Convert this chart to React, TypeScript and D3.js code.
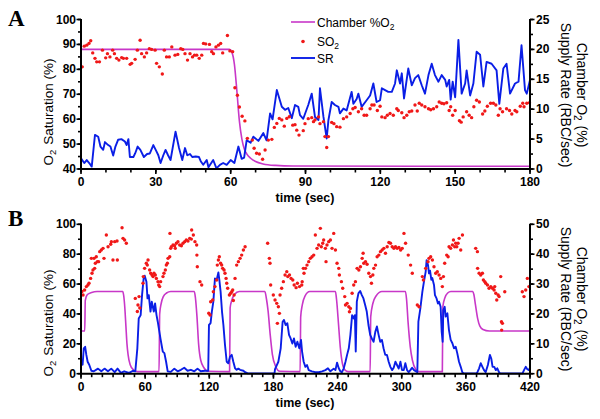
import React from 'react';
import * as d3 from 'd3';

type P = [number, number];

// ---------- tick labels ----------
const topXTicks = [0, 30, 60, 90, 120, 150, 180];
const topLeftTicks = [40, 50, 60, 70, 80, 90, 100];
const topRightTicks = [0, 5, 10, 15, 20, 25];
const botXTicks = [0, 60, 120, 180, 240, 300, 360, 420];
const botLeftTicks = [0, 20, 40, 60, 80, 100];
const botRightTicks = [0, 10, 20, 30, 40, 50];

// ---------- panel A data ----------
// Chamber O2 (%), right axis
const topChamber: P[] = [[0,20],[59.5,20],[60.5,19.5],[61.5,17.5],[62.5,13],[63.5,8],[64.5,5],[65.5,3.3],[66.5,2.5],[68,1.8],[70,1.25],[73,0.85],[78,0.6],[85,0.5],[180,0.45]];
// Supply rate (RBC/sec), right axis
const topSR: P[] = [[0,1.8],[1.3,1.0],[2.3,1.5],[3.3,1.0],[4.3,0.4],[5.6,5.7],[6.9,5.4],[7.8,3.75],[8.9,3.2],[9.6,4.5],[10.9,4.0],[11.8,3.75],[12.9,2.25],[13.8,3.75],[14.9,4.9],[16.2,5.0],[17.6,4.6],[18.3,4.0],[19,5.0],[19.6,2.0],[21,2.0],[21.7,2.6],[22.7,3.75],[23.8,3.2],[25.2,2.0],[26.5,2.5],[27.6,2.6],[29,4.0],[30.3,2.9],[31,2.3],[31.9,1.0],[33,2.3],[33.9,3.2],[34.9,2.3],[35.9,1.5],[37.9,6.25],[39.3,3.5],[40.6,1.5],[41.7,3.5],[42.6,2.3],[43.7,2.5],[44.6,2.0],[46,2.1],[47.3,2.0],[48,1.3],[49,0.7],[50.4,1.5],[51.1,0.3],[53,1.5],[54.3,0.1],[55.7,0.7],[57,1.0],[58.4,0.7],[60,1.5],[61.5,1.0],[63.1,3.75],[64.4,1.7],[65.4,1.9],[66.4,4.8],[68,4.4],[69.1,5.4],[71.1,4.7],[73.1,6.0],[74.4,4.8],[75.8,9.3],[76.8,8.3],[78.5,13.2],[80.5,10.4],[81.8,9.9],[83.1,10.2],[84.5,8.5],[85.8,10.7],[87.1,10.4],[87.8,9.0],[89.1,8.4],[91.1,10.7],[92.5,12.6],[93.8,8.7],[95.2,8.2],[95.8,13.5],[97.2,8.7],[98.5,5.1],[99.2,8.2],[100.5,11.2],[101.8,10.7],[103.2,10.4],[103.8,9.3],[105.2,10.1],[106.5,9.8],[108.5,12.9],[109.2,10.9],[110.5,11.7],[111.2,12.6],[112.5,10.4],[114.5,11.5],[115.9,12.3],[117.2,14.3],[118.5,11.2],[119.9,11.5],[120.6,13.5],[121.9,13.2],[123.2,12.9],[124.6,12.9],[125.9,14.3],[126.6,16.5],[127.9,14.3],[128.6,16.0],[129.5,11.8],[131.2,16.8],[132.6,14],[133.9,15.2],[135.2,15.7],[136.6,14],[137.9,12.6],[139.3,15.7],[140.6,17.6],[141.9,15.7],[143.3,14.6],[144.6,15.7],[146,14.9],[146.6,13.8],[147.6,14.9],[148.2,11.6],[149,14.6],[150,12],[151.3,21.6],[152.6,12.6],[154,14.3],[154.6,16.5],[156,12.3],[157.3,14.3],[158.6,19.6],[160,19.1],[161.3,13.8],[162.6,17.9],[164.6,17.6],[166.6,16.5],[167.7,10.9],[169.3,16.8],[170.6,17.6],[172,12.6],[174,14.3],[175.4,14.6],[176.6,20.7],[178,13.2],[178.7,12.6],[180,14.9]];
// SO2 (%), left axis
const topSO2: P[] = [[0.5,81],[1.3,89.3],[2.3,89.7],[3.2,90.4],[3.9,91.5],[4.7,86.6],[5.6,84.4],[6.3,83],[7.4,83],[8.6,87.7],[9.9,84.6],[10.6,86.3],[11.6,85],[12.7,87.7],[13.4,86.3],[14.3,84.4],[15.2,83.7],[16.3,84.7],[17,84.4],[18.3,84.4],[19.7,82],[20.3,82.4],[21.7,84],[22.6,87.7],[23.7,91.7],[24.3,86.3],[25.4,85],[26.3,86.6],[27.4,88.3],[28.3,88],[29.7,87.7],[30.3,82.4],[31.4,81],[32.6,78.1],[33.4,87.7],[34.3,85],[35.4,85],[36.4,89],[37.7,85.7],[38.8,86],[40,88.3],[40.8,88],[41.7,86.3],[42.7,83.7],[43.7,86.3],[44.7,85],[45.5,85.7],[46.4,85.7],[47.4,84.4],[48.4,85.7],[49.1,90.4],[50,90.2],[51.5,90],[52.4,87.1],[53.1,86.3],[54.1,89],[55.1,89.7],[56,90.4],[56.8,86.6],[58.7,93.6],[59.7,87.4],[60.8,87.1],[61.7,72.6],[62.7,69.6],[63.5,64.9],[64.6,61.2],[65.7,59.3],[66.7,52.3],[68.7,51.6],[69.4,48.3],[70.4,46.3],[71.5,46],[72.8,43.9],[73.8,47.6],[75.1,51.6],[76.5,51.9],[77.5,56.7],[78.5,58.3],[79.5,60.3],[80.5,59.7],[81.5,57.2],[82.5,60.3],[83.5,61],[84.9,57.6],[85.8,57.8],[86.5,55.6],[87.4,53.6],[89.1,55.4],[89.8,58.2],[91.1,60.2],[92.5,60.6],[93.2,59],[93.8,59.7],[95.2,60.9],[95.8,58.2],[97.2,59],[97.8,53],[98.5,48.6],[99.2,53],[100.5,58.7],[101.4,58.2],[102.5,57],[103.8,56.8],[105.2,60.2],[106.5,60.9],[107.9,62.3],[109,64.2],[109.9,64.7],[111.2,63],[112.5,64.2],[113.5,61.6],[114.5,61.6],[115.9,64.2],[116.6,65.7],[117.5,65.7],[118.8,63.5],[119.9,65.2],[120.6,60.9],[121.9,60.6],[122.8,61.6],[123.9,62.3],[125.2,61.6],[126.6,64.2],[127.2,63.5],[128.6,62.6],[129.5,60.6],[130.6,61.6],[131.6,63],[132.6,63.3],[133.9,65.7],[134.8,63.3],[135.6,66.4],[136.6,65.7],[137.9,65],[139.3,64.2],[140.2,63.8],[141.3,64.2],[142.6,65],[143.6,66.9],[144.6,66.4],[145.5,66.2],[146.6,66.6],[147.6,63.5],[148.2,65],[149,61.6],[150,63.5],[151.7,59.4],[152.4,58.8],[153.2,60.9],[154.6,63],[155.6,61.6],[156.6,60.6],[157.5,65],[158.6,67.6],[159.7,66.9],[161,62.1],[161.9,63.3],[162.9,65.2],[164.2,66.4],[165.3,66.4],[166.3,65.7],[167.3,61.6],[168,64.2],[169,63],[170.6,64.2],[171.8,63.5],[172.7,62.1],[174,63.5],[174.7,63],[176.1,65.2],[177.1,66.4],[177.6,65],[178.7,66.4],[179.8,66.6]];

// ---------- panel B data ----------
const botChamber: P[] = [[0,14.3],[3.5,14.3],[4,24.5],[6,26.5],[10,27.2],[15,27.5],[39,27.5],[40,26],[41,22],[42,16],[43,10],[44,6.5],[46,3],[49,1.3],[53,0.7],[73,0.7],[73.6,20],[75,23.5],[77,25.8],[80,27],[84,27.5],[106,27.5],[107,25.5],[108.5,19],[110,10],[112,4.5],[115,2],[119,0.8],[139,0.7],[139.5,22],[141,24.5],[143.5,26.5],[148,27.5],[172,27.5],[173.5,25],[175,21],[177,13],[179,6.5],[182,2.5],[186,0.8],[205,0.7],[205.5,19],[207,23],[209.5,26],[214,27.5],[238,27.5],[239,25],[241,16],[242.5,9],[244.5,3.5],[247,1.2],[250,0.7],[270.5,0.7],[271,19],[273,23.5],[276,26],[281.5,27.5],[303.5,27.5],[304.5,25],[306,17],[308,9],[310,4.5],[313,1.5],[316,0.7],[338,0.7],[338.5,22.5],[340.5,25.5],[343,27],[346,27.5],[366.5,27.5],[367.5,26.5],[369,23],[371,18.5],[373,16],[376,14.8],[382,14.3],[420,14.3]];
const botSR: P[] = [[0.3,4.0],[1.5,3],[2.6,8.5],[3.9,9],[5,6.3],[6.2,4],[7.7,3],[9.7,1.0],[12,0.8],[15.9,1.7],[19,0.8],[22,1.7],[25.2,0.8],[28.3,1.7],[31.5,0.5],[34.2,1.7],[37.3,0.3],[40.4,0.8],[45,0.3],[48.6,1.0],[50.8,0.8],[52.7,8.5],[54,18.5],[55.8,19.6],[57.1,26.3],[58.6,31.9],[59.6,32.8],[61.2,30.8],[62.2,25.2],[63.4,26.3],[65,20.8],[66.2,24.1],[68.1,20.8],[69.3,23.5],[70.6,19.7],[71.8,17.4],[74.3,11.8],[76.5,7.4],[78,6.9],[79.6,4],[81.1,0.8],[84,0.6],[87.3,1.7],[90.4,0.8],[93.5,1.3],[96.6,2],[99.7,1.0],[102.8,1.3],[106,0.8],[109,1.7],[112,0.8],[116,1.0],[119,1.0],[119.7,16.3],[121.2,16.9],[122.4,20.8],[123.8,24.1],[125.3,31.9],[126.9,31.4],[128.5,33.9],[129.4,31.4],[130.6,27.4],[131.9,20.8],[133.2,16.3],[134.7,9.6],[136.3,4],[137.8,3.5],[139.4,5.7],[141,6.3],[142.5,4],[144.1,1.8],[145.6,1.3],[147.2,1.7],[148.8,1.3],[151.9,1.0],[153.5,0.5],[156,0.1],[181,0.1],[181.5,1.5],[184.6,4],[186.8,8.5],[188.6,17.4],[189.9,18],[191.4,16.3],[193,16.9],[194.6,13],[196.1,11.8],[197.7,10.1],[199.2,11.8],[200.8,9],[202.4,10.7],[204.2,8.5],[205.8,11.3],[206.8,7.4],[208.3,4],[209.9,2.3],[211.4,2.9],[213,1.2],[216,0.8],[219,0.5],[222.3,0.5],[225.5,0.8],[228.6,1.2],[231,1.8],[233.3,0.8],[236.4,1.7],[238,1.2],[239.5,3.7],[241.1,1.8],[242.6,0.8],[244,0.5],[245.8,1.8],[247.4,4],[248.9,6.3],[250.5,8.5],[252,13],[253.6,19.6],[255.1,18.5],[256.2,19.6],[257,7.4],[258,24.1],[259.5,26.9],[261.1,27.7],[262.7,26.3],[264.2,25.2],[265.8,23],[267.3,20.8],[268.9,16.3],[270.5,13],[272,11.8],[273.7,10.7],[275.3,14],[276.8,15.8],[278.4,13],[279.9,10.7],[281.5,11.3],[283,8.5],[284.6,6.3],[286.2,6.3],[287.8,4],[289.4,2.3],[291,1.2],[292.5,2],[294.1,4],[295.6,2.9],[297.2,1.7],[298.8,4],[300.3,1.2],[301.9,1.2],[303.4,3.5],[305,1.2],[306.5,0.5],[308.1,1.2],[309.7,2],[311.5,1.2],[314.6,0.5],[315.6,17.4],[317.5,22],[319.3,27.4],[320.8,30.8],[322.4,34.1],[323.3,38],[324.6,36.4],[325.5,33.6],[326.5,34.5],[327.7,31.4],[328.6,32],[330.2,29.7],[331.1,26.3],[332.6,25.2],[333.9,23.5],[334.9,24.1],[336.4,22.4],[337.4,14],[338.3,10.7],[338.9,21.3],[340.2,22.4],[341.1,19.1],[342.7,20.2],[344.2,14.6],[345.8,11.3],[347.4,10.2],[348.9,8.5],[350.5,9],[352,6.8],[353.6,4],[355.2,2.3],[356.7,0.5],[358,0.1],[370,0.1],[370.8,0.5],[372.4,1.8],[373.9,3.5],[375.5,2.3],[377,1.2],[378.5,0.5],[380.6,2.9],[382.5,6.3],[383.8,5],[385,2.3],[386.6,2.3],[388,1.2],[389.4,1.8],[391,0.5],[392,0.1],[413,0.1],[414.4,1.2],[416,2.3],[417.5,1.5],[419,1.2],[420,2]];
const botSO2: P[] = [[0.9,55],[1.9,52.7],[3.4,56],[5,58.3],[6.5,59.4],[7.5,60.5],[9,63.8],[9.7,77.2],[10.3,67.2],[11.2,69.4],[12.2,77.2],[12.8,70.5],[13.4,73.9],[14.3,78.3],[15.3,75],[16.5,75],[17.5,81.7],[19,82.8],[20.6,83.9],[21.5,77.2],[23.7,92.8],[25.3,85],[27.8,86.6],[28.4,88.4],[29.9,76.1],[31.5,88.4],[33.7,88.8],[34,76.1],[38.4,97.7],[39.3,90.6],[40.8,89.5],[42.4,87.3],[50.8,50.4],[52.7,41.6],[53.3,46],[54.3,51.6],[55,44],[58,60.5],[58.3,65],[59.5,70.5],[61.1,73.9],[62,72.7],[62.7,76.1],[64.2,69.4],[65.2,67.2],[66.4,66.1],[67.4,65],[68.3,67.2],[69.5,66.1],[70.5,63.8],[72,61.6],[72.7,59.4],[73.6,58.3],[74.5,61.6],[76.7,65],[77.6,67.2],[78.9,69.4],[79.8,72.7],[80.8,73.9],[81.4,77.2],[83,78.3],[83.2,93.9],[83.9,83.9],[84.5,85],[86.1,86.1],[87.6,85.6],[88.2,83.9],[89.2,87.3],[90.7,88.4],[92.3,86.1],[93.9,85.6],[95.4,87.3],[97,88.4],[98.5,89.5],[100.1,88.8],[101.7,90.6],[103.2,90.1],[103.5,96.2],[105.1,92.8],[106.6,88.4],[108.2,86.1],[108.4,79.4],[108.8,71.6],[111.3,61.6],[112.9,59.4],[119.5,40.5],[120.7,39.3],[121.3,48.2],[123.2,49.3],[123.8,54.9],[125.3,58.3],[126.9,62.7],[127.5,72.7],[128.5,76.1],[129.4,78.3],[130.6,73.9],[131.6,72.7],[132.5,70.5],[133.8,69.4],[134.7,67.2],[135.7,63.8],[136.3,60.5],[137.2,57.2],[138.8,52.7],[140,53.8],[141,54.9],[141.9,56],[142.5,49],[143.2,52.7],[144.1,63.8],[145.6,72.7],[147.2,75],[148.8,77.2],[150.3,79.4],[151.9,82.8],[153.5,85],[174.6,87.3],[176.2,77.2],[176.8,73.9],[177.4,59.4],[179.9,52.7],[181.5,49.3],[183.1,47.1],[183.7,33.7],[184.6,44.8],[185.6,40.4],[186.2,52.7],[187.7,57.2],[189.3,61.6],[190.9,66.1],[192.5,68.3],[193.4,65],[195,66.1],[196.5,63.8],[198.1,62.7],[199.4,59.4],[201.2,57.6],[202.4,60.5],[204.4,58.3],[206.5,59.4],[206.9,61.6],[208,70.5],[208.6,67.2],[210,70.5],[211.4,72.7],[213,75],[214.5,77.2],[216.1,78.3],[217.7,79.4],[219.2,92.8],[220.8,83.9],[222.3,86.1],[223.9,97.3],[224.8,85],[226.1,87.3],[227,89.5],[228.6,83.9],[229.2,75],[230.1,86.1],[231.7,88.4],[233.3,89.5],[234.8,83.9],[236.4,93.9],[238,82.8],[239.5,73.9],[241.1,70.5],[241.7,66.1],[243.6,61.6],[244.8,57.2],[246.7,51.6],[247.4,46],[248.9,47.1],[250.5,44.8],[251.1,41.5],[252,43.7],[253.6,53.8],[255.1,59.4],[256.7,61.6],[258.3,70.5],[259.9,69.4],[261.4,71.6],[263,77.2],[263.9,80.6],[264.5,73.9],[266.1,75],[267.6,73.3],[269.2,67.2],[270.8,65],[271.7,60.5],[273,66.1],[273.9,70.5],[275.5,72.7],[277,78.3],[278.6,79.4],[280.1,81.7],[281.7,82.8],[283.3,83.9],[284.8,80.6],[286.4,85],[288,87.8],[289.5,87.3],[291.1,85],[292.7,83.9],[294.2,85],[295.8,83.9],[297.4,84.5],[299,82.8],[300.5,83.9],[302.1,93.9],[303.6,87.3],[306.1,79.4],[308.3,72.7],[309.9,67.2],[314.6,46],[316.2,44.8],[319.3,65],[320.3,62.7],[322.4,70.5],[324.6,75],[325.5,77.2],[327.1,78.3],[328.7,76.1],[330.2,71.6],[331.8,67.2],[333.3,68.3],[334.9,66.1],[336.5,63.8],[338,58.3],[339,65],[340.2,73.9],[342.1,79.4],[343.4,78.3],[344.3,85],[345.8,83.9],[347.4,86.1],[348.4,89.5],[349.6,85],[350.5,87.3],[351.5,85],[352.7,87.3],[353.7,90.6],[355.2,82.8],[356.8,92.8],[369.2,83.9],[370.8,81.7],[371,70.5],[372.4,67.2],[373.9,66.1],[375.5,67.2],[376.4,62.7],[377.7,61.6],[378.6,60.5],[380.2,59.4],[381.7,57.2],[383.3,58.3],[384.9,57.2],[386.4,56],[387,58.3],[388,53.8],[388.9,49.3],[390.2,52.7],[391.1,51.6],[392.6,65],[393.3,34.8],[394.2,33.7],[393.5,29.2],[396.4,54.9],[412.8,54.9],[414.4,51.6],[416,56],[417.5,63.8],[419,58.3]];

const MAGENTA = '#c837c8';
const BLUE = '#0a1ee6';
const RED = '#f01818';
const SANS = '"Liberation Sans", Arial, Helvetica, sans-serif';

type PanelProps = {
  letter: string;
  letterY: number;
  xDomain: [number, number];
  lDomain: [number, number];
  rDomain: [number, number];
  top: number;
  bottom: number;
  xTicks: number[];
  xMinorStep: number;
  lTicks: number[];
  lMinorStep: number;
  rTicks: number[];
  rMinorStep: number;
  chamber: P[];
  sr: P[];
  so2: P[];
  leftTitleY: number;
  rightTitleY: number;
  legend?: boolean;
};

const X0 = 81;
const X1 = 530;

function Panel(p: PanelProps) {
  const x = d3.scaleLinear().domain(p.xDomain).range([X0, X1]);
  const yL = d3.scaleLinear().domain(p.lDomain).range([p.bottom, p.top]);
  const yR = d3.scaleLinear().domain(p.rDomain).range([p.bottom, p.top]);
  const chamberLine = d3.line<P>().x(d => x(d[0])).y(d => yR(d[1])).curve(d3.curveMonotoneX);
  const srLine = d3.line<P>().x(d => x(d[0])).y(d => yR(d[1]));
  const eps = 1e-6;
  const xMinor = d3.range(p.xDomain[0], p.xDomain[1] + eps, p.xMinorStep);
  const lMinor = d3.range(p.lDomain[0], p.lDomain[1] + eps, p.lMinorStep);
  const rMinor = d3.range(p.rDomain[0], p.rDomain[1] + eps, p.rMinorStep);
  const tickStyle = { stroke: '#000', strokeWidth: 1.6 };
  const labelStyle: React.CSSProperties = { fontFamily: SANS, fontWeight: 'bold', fontSize: 12 };
  return (
    <g>
      <text x={8} y={p.letterY} fontFamily='"Liberation Serif", "Times New Roman", serif' fontWeight="bold" fontSize={23}>{p.letter}</text>
      {/* series */}
      <path d={chamberLine(p.chamber) || ''} fill="none" stroke={MAGENTA} strokeWidth={1.6} />
      <path d={srLine(p.sr) || ''} fill="none" stroke={BLUE} strokeWidth={1.9} strokeLinejoin="round" />
      {p.so2.map((d, i) => (
        <circle key={i} cx={x(d[0])} cy={yL(d[1])} r={1.7} fill={RED} />
      ))}
      {/* axes lines */}
      <line x1={X0} x2={X0} y1={p.top - 0.5} y2={p.bottom + 1} stroke="#000" strokeWidth={2} />
      <line x1={X1} x2={X1} y1={p.top - 0.5} y2={p.bottom + 1} stroke="#000" strokeWidth={2} />
      <line x1={X0 - 1} x2={X1 + 1} y1={p.bottom} y2={p.bottom} stroke="#000" strokeWidth={2} />
      {/* x ticks */}
      {xMinor.map((t, i) => (
        <line key={'xm' + i} x1={x(t)} x2={x(t)} y1={p.bottom} y2={p.bottom + 3.5} {...tickStyle} />
      ))}
      {p.xTicks.map((t, i) => (
        <g key={'xt' + i}>
          <line x1={x(t)} x2={x(t)} y1={p.bottom} y2={p.bottom + 5} {...tickStyle} />
          <text x={x(t)} y={p.bottom + 13} textAnchor="middle" dominantBaseline="central" style={labelStyle}>{t}</text>
        </g>
      ))}
      {/* left ticks */}
      {lMinor.map((t, i) => (
        <line key={'lm' + i} x1={X0 - 3} x2={X0} y1={yL(t)} y2={yL(t)} {...tickStyle} />
      ))}
      {p.lTicks.map((t, i) => (
        <g key={'lt' + i}>
          <line x1={X0 - 4.5} x2={X0} y1={yL(t)} y2={yL(t)} {...tickStyle} />
          <text x={X0 - 5} y={yL(t)} textAnchor="end" dominantBaseline="central" style={labelStyle}>{t}</text>
        </g>
      ))}
      {/* right ticks */}
      {rMinor.map((t, i) => (
        <line key={'rm' + i} x1={X1} x2={X1 + 3} y1={yR(t)} y2={yR(t)} {...tickStyle} />
      ))}
      {p.rTicks.map((t, i) => (
        <g key={'rt' + i}>
          <line x1={X1} x2={X1 + 4.5} y1={yR(t)} y2={yR(t)} {...tickStyle} />
          <text x={X1 + 6} y={yR(t)} textAnchor="start" dominantBaseline="central" style={labelStyle}>{t}</text>
        </g>
      ))}
      {/* x title */}
      <text x={305} y={p.bottom + 29} textAnchor="middle" dominantBaseline="central" style={{ ...labelStyle, fontSize: 12.5 }}>
        time<tspan dx={4}>(sec)</tspan>
      </text>
      {/* left title */}
      <text transform={`translate(53,${p.leftTitleY}) rotate(-90)`} textAnchor="middle" fontFamily={SANS} fontSize={13.5}>
        O<tspan fontSize={9.5} dy={3}>2</tspan><tspan dy={-3} dx={5}>Saturation (%)</tspan>
      </text>
      {/* right titles */}
      <text transform={`translate(577,${p.rightTitleY}) rotate(90)`} textAnchor="middle" fontFamily={SANS} fontSize={14}>
        Chamber O<tspan fontSize={10} dy={3}>2</tspan><tspan dy={-3} dx={5}>(%)</tspan>
      </text>
      <text transform={`translate(561,${p.rightTitleY}) rotate(90)`} textAnchor="middle" fontFamily={SANS} fontSize={14}>
        Supply Rate (RBC/sec)
      </text>
      {p.legend && (
        <g fontFamily={SANS} fontSize={12}>
          <line x1={291} x2={315} y1={22} y2={22} stroke={MAGENTA} strokeWidth={1.6} />
          <text x={317} y={26.5}>Chamber %O<tspan fontSize={8.5} dy={3}>2</tspan></text>
          <circle cx={303} cy={41.5} r={1.8} fill={RED} />
          <text x={317} y={45.5}>SO<tspan fontSize={8.5} dy={3}>2</tspan></text>
          <line x1={291} x2={315} y1={58} y2={58} stroke={BLUE} strokeWidth={1.9} />
          <text x={317} y={62.5}>SR</text>
        </g>
      )}
    </g>
  );
}

export default function App() {
  return (
    <svg width={600} height={419} style={{ position: 'absolute', left: 0, top: 0, background: '#fff' }}>
      <rect x={0} y={0} width={600} height={419} fill="#fff" />
      <Panel
        letter="A" letterY={25.5}
        xDomain={[0, 180]} lDomain={[40, 100]} rDomain={[0, 25]}
        top={19.5} bottom={169}
        xTicks={topXTicks} xMinorStep={10}
        lTicks={topLeftTicks} lMinorStep={5}
        rTicks={topRightTicks} rMinorStep={2.5}
        chamber={topChamber} sr={topSR} so2={topSO2}
        leftTitleY={112} rightTitleY={95} legend
      />
      <Panel
        letter="B" letterY={225.5}
        xDomain={[0, 420]} lDomain={[0, 100]} rDomain={[0, 50]}
        top={224.3} bottom={373.7}
        xTicks={botXTicks} xMinorStep={10}
        lTicks={botLeftTicks} lMinorStep={10}
        rTicks={botRightTicks} rMinorStep={5}
        chamber={botChamber} sr={botSR} so2={botSO2}
        leftTitleY={323} rightTitleY={299}
      />
    </svg>
  );
}
